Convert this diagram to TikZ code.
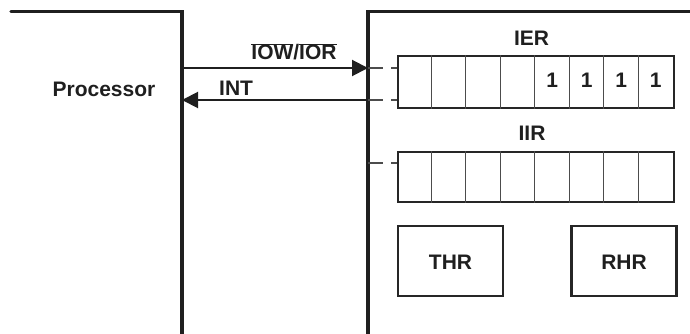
\documentclass[tikz,border=0pt]{standalone}
\usepackage{fontspec}
\setmainfont{Liberation Sans}
\usetikzlibrary{arrows.meta,calc}
\begin{document}
\begin{tikzpicture}[x=1pt,y=-1pt,
  wall/.style={line width=3.4pt,draw=black!88},
  regbox/.style={draw=black!85,line width=2.2pt,minimum width=276pt,minimum height=52pt,inner sep=0pt},
  cellline/.style={draw=black!70,line width=1pt},
  hold/.style={draw=black!85,line width=2.2pt,minimum width=105pt,minimum height=70pt,inner sep=0pt},
  sig/.style={line width=2pt,draw=black!88,-{Triangle[length=16pt,width=16pt]}},
  dashlink/.style={draw=black!70,line width=1.2pt,dash pattern=on 15pt off 8pt},
  lbl/.style={font=\fontsize{21pt}{23pt}\selectfont\bfseries,text=black!88,inner sep=0pt,anchor=base}]
\useasboundingbox (0,0) rectangle (690,334);
% walls
\coordinate (pTL) at (11,11.5);
\coordinate (pTR) at (182,11.5);
\coordinate (pB) at (182,334);
\coordinate (dT) at (368,11.5);
\coordinate (dTR) at (690,11.5);
\coordinate (dB) at (368,334);
\draw[wall,line cap=round] (pTL) -- (pTR) -- (pB);
\draw[wall] (dTR) -- (dT) -- (dB);
% labels
\node[lbl] (proc) at (104,97) {Processor};
\node[lbl] (iow) at (294,60) {$\overline{\mbox{IOW}}$/$\overline{\mbox{IOR}}$};
\node[lbl,anchor=base west] (int) at (219,96) {INT};
% registers
\node[regbox] (ier) at (536,82) {};
\node[lbl] (ierl) at (531.5,45.5) {IER};
\foreach \i in {1,...,7}{\draw[cellline] ($(ier.north west)+(34.5*\i,0)$) -- ($(ier.south west)+(34.5*\i,0)$);}
\foreach \i in {4,...,7}{\node[lbl] (one\i) at ($(ier.west)+(34.5*\i+17.25,5.5)$) {1};}
\node[regbox,minimum height=50pt] (iir) at (536,177) {};
\node[lbl] (iirl) at (532,140.5) {IIR};
\foreach \i in {1,...,7}{\draw[cellline] ($(iir.north west)+(34.5*\i,0)$) -- ($(iir.south west)+(34.5*\i,0)$);}
\node[hold] (thr) at (450.5,261) {};
\node[lbl] (thrl) at (450.5,269) {THR};
\node[hold] (rhr) at (624,261) {};
\node[lbl] (rhrl) at (624,269) {RHR};
% signals
\coordinate (a1) at (182,68);
\coordinate (a2) at (368,68);
\coordinate (b1) at (368,100);
\coordinate (b2) at (182,100);
\draw[sig] (a1) -- (a2);
\draw[sig] (b1) -- (b2);
\coordinate (c1) at (368,163);
\draw[dashlink] (a2) -- (a2 -| ier.west);
\draw[dashlink] (b1) -- (b1 -| ier.west);
\draw[dashlink] (c1) -- (c1 -| iir.west);
\end{tikzpicture}
\end{document}
